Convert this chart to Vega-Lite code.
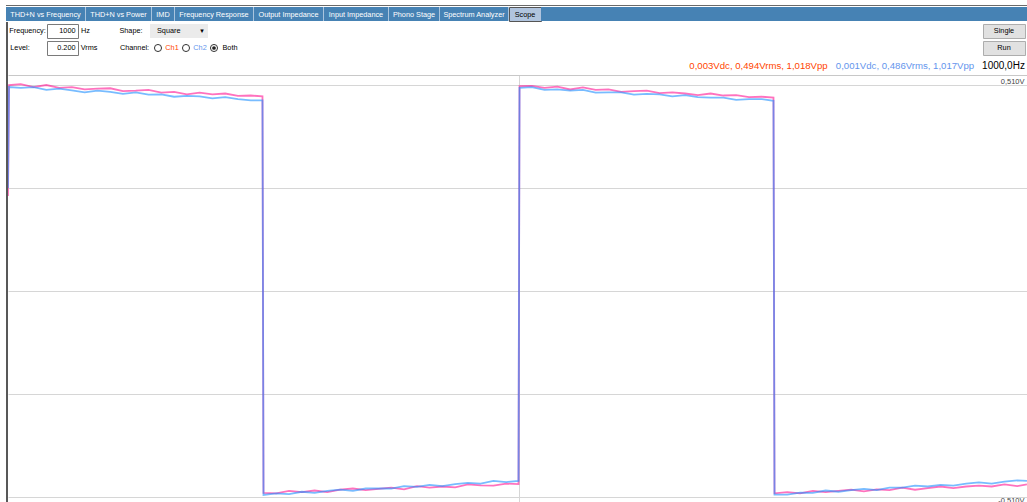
{
  "$schema": "https://vega.github.io/schema/vega-lite/v6.json",
  "padding": {"left": 6, "top": 5, "right": 0, "bottom": 0},
  "background": "white",
  "config": {
    "view": {"stroke": null},
    "text": {"font": "Liberation Sans", "fontSize": 7.3, "color": "#000000"},
    "concat": {"spacing": 0}
  },
  "datasets": {
    "scope": [
      {"ch":"Ch1","t":0,"v":0.235},{"ch":"Ch1","t":0.002,"v":0.51},{"ch":"Ch1","t":0.025,"v":0.512},{"ch":"Ch1","t":0.05,"v":0.505},{"ch":"Ch1","t":0.075,"v":0.51},{"ch":"Ch1","t":0.1,"v":0.503},{"ch":"Ch1","t":0.125,"v":0.505},{"ch":"Ch1","t":0.15,"v":0.499},{"ch":"Ch1","t":0.175,"v":0.501},{"ch":"Ch1","t":0.2,"v":0.502},{"ch":"Ch1","t":0.225,"v":0.495},{"ch":"Ch1","t":0.25,"v":0.496},{"ch":"Ch1","t":0.275,"v":0.498},{"ch":"Ch1","t":0.3,"v":0.491},{"ch":"Ch1","t":0.325,"v":0.493},{"ch":"Ch1","t":0.35,"v":0.487},{"ch":"Ch1","t":0.375,"v":0.491},{"ch":"Ch1","t":0.4,"v":0.487},{"ch":"Ch1","t":0.425,"v":0.489},{"ch":"Ch1","t":0.45,"v":0.483},{"ch":"Ch1","t":0.475,"v":0.484},{"ch":"Ch1","t":0.498,"v":0.482},
      {"ch":"Ch1","t":0.5,"v":-0.5},{"ch":"Ch1","t":0.525,"v":-0.501},{"ch":"Ch1","t":0.55,"v":-0.495},{"ch":"Ch1","t":0.575,"v":-0.498},{"ch":"Ch1","t":0.6,"v":-0.494},{"ch":"Ch1","t":0.625,"v":-0.498},{"ch":"Ch1","t":0.65,"v":-0.492},{"ch":"Ch1","t":0.675,"v":-0.489},{"ch":"Ch1","t":0.7,"v":-0.493},{"ch":"Ch1","t":0.725,"v":-0.49},{"ch":"Ch1","t":0.75,"v":-0.487},{"ch":"Ch1","t":0.775,"v":-0.491},{"ch":"Ch1","t":0.8,"v":-0.483},{"ch":"Ch1","t":0.825,"v":-0.487},{"ch":"Ch1","t":0.85,"v":-0.484},{"ch":"Ch1","t":0.875,"v":-0.486},{"ch":"Ch1","t":0.9,"v":-0.479},{"ch":"Ch1","t":0.925,"v":-0.481},{"ch":"Ch1","t":0.95,"v":-0.482},{"ch":"Ch1","t":0.975,"v":-0.477},{"ch":"Ch1","t":0.999,"v":-0.478},
      {"ch":"Ch1","t":1.001,"v":0.507},{"ch":"Ch1","t":1.025,"v":0.508},{"ch":"Ch1","t":1.05,"v":0.503},{"ch":"Ch1","t":1.075,"v":0.506},{"ch":"Ch1","t":1.1,"v":0.499},{"ch":"Ch1","t":1.125,"v":0.504},{"ch":"Ch1","t":1.15,"v":0.498},{"ch":"Ch1","t":1.175,"v":0.499},{"ch":"Ch1","t":1.2,"v":0.493},{"ch":"Ch1","t":1.225,"v":0.495},{"ch":"Ch1","t":1.25,"v":0.496},{"ch":"Ch1","t":1.275,"v":0.49},{"ch":"Ch1","t":1.3,"v":0.492},{"ch":"Ch1","t":1.325,"v":0.489},{"ch":"Ch1","t":1.35,"v":0.485},{"ch":"Ch1","t":1.375,"v":0.489},{"ch":"Ch1","t":1.4,"v":0.484},{"ch":"Ch1","t":1.425,"v":0.485},{"ch":"Ch1","t":1.45,"v":0.48},{"ch":"Ch1","t":1.475,"v":0.481},{"ch":"Ch1","t":1.498,"v":0.479},
      {"ch":"Ch1","t":1.5,"v":-0.501},{"ch":"Ch1","t":1.525,"v":-0.498},{"ch":"Ch1","t":1.55,"v":-0.501},{"ch":"Ch1","t":1.575,"v":-0.495},{"ch":"Ch1","t":1.6,"v":-0.498},{"ch":"Ch1","t":1.625,"v":-0.495},{"ch":"Ch1","t":1.65,"v":-0.492},{"ch":"Ch1","t":1.675,"v":-0.496},{"ch":"Ch1","t":1.7,"v":-0.491},{"ch":"Ch1","t":1.725,"v":-0.493},{"ch":"Ch1","t":1.75,"v":-0.487},{"ch":"Ch1","t":1.775,"v":-0.492},{"ch":"Ch1","t":1.8,"v":-0.488},{"ch":"Ch1","t":1.825,"v":-0.484},{"ch":"Ch1","t":1.85,"v":-0.488},{"ch":"Ch1","t":1.875,"v":-0.484},{"ch":"Ch1","t":1.9,"v":-0.482},{"ch":"Ch1","t":1.925,"v":-0.484},{"ch":"Ch1","t":1.95,"v":-0.479},{"ch":"Ch1","t":1.975,"v":-0.483},{"ch":"Ch1","t":1.994,"v":-0.479},
      {"ch":"Ch2","t":0,"v":0.255},{"ch":"Ch2","t":0.002,"v":0.505},{"ch":"Ch2","t":0.025,"v":0.503},{"ch":"Ch2","t":0.05,"v":0.505},{"ch":"Ch2","t":0.075,"v":0.498},{"ch":"Ch2","t":0.1,"v":0.501},{"ch":"Ch2","t":0.125,"v":0.497},{"ch":"Ch2","t":0.15,"v":0.492},{"ch":"Ch2","t":0.175,"v":0.496},{"ch":"Ch2","t":0.2,"v":0.493},{"ch":"Ch2","t":0.225,"v":0.488},{"ch":"Ch2","t":0.25,"v":0.492},{"ch":"Ch2","t":0.275,"v":0.486},{"ch":"Ch2","t":0.3,"v":0.487},{"ch":"Ch2","t":0.325,"v":0.481},{"ch":"Ch2","t":0.35,"v":0.483},{"ch":"Ch2","t":0.375,"v":0.482},{"ch":"Ch2","t":0.4,"v":0.477},{"ch":"Ch2","t":0.425,"v":0.48},{"ch":"Ch2","t":0.45,"v":0.475},{"ch":"Ch2","t":0.475,"v":0.472},{"ch":"Ch2","t":0.498,"v":0.472},
      {"ch":"Ch2","t":0.5,"v":-0.505},{"ch":"Ch2","t":0.525,"v":-0.501},{"ch":"Ch2","t":0.55,"v":-0.503},{"ch":"Ch2","t":0.575,"v":-0.497},{"ch":"Ch2","t":0.6,"v":-0.5},{"ch":"Ch2","t":0.625,"v":-0.495},{"ch":"Ch2","t":0.65,"v":-0.492},{"ch":"Ch2","t":0.675,"v":-0.495},{"ch":"Ch2","t":0.7,"v":-0.489},{"ch":"Ch2","t":0.725,"v":-0.489},{"ch":"Ch2","t":0.75,"v":-0.489},{"ch":"Ch2","t":0.775,"v":-0.483},{"ch":"Ch2","t":0.8,"v":-0.485},{"ch":"Ch2","t":0.825,"v":-0.48},{"ch":"Ch2","t":0.85,"v":-0.483},{"ch":"Ch2","t":0.875,"v":-0.478},{"ch":"Ch2","t":0.9,"v":-0.475},{"ch":"Ch2","t":0.925,"v":-0.477},{"ch":"Ch2","t":0.95,"v":-0.47},{"ch":"Ch2","t":0.975,"v":-0.473},{"ch":"Ch2","t":0.999,"v":-0.47},
      {"ch":"Ch2","t":1.001,"v":0.503},{"ch":"Ch2","t":1.025,"v":0.505},{"ch":"Ch2","t":1.05,"v":0.498},{"ch":"Ch2","t":1.075,"v":0.499},{"ch":"Ch2","t":1.1,"v":0.496},{"ch":"Ch2","t":1.125,"v":0.498},{"ch":"Ch2","t":1.15,"v":0.491},{"ch":"Ch2","t":1.175,"v":0.492},{"ch":"Ch2","t":1.2,"v":0.492},{"ch":"Ch2","t":1.225,"v":0.486},{"ch":"Ch2","t":1.25,"v":0.488},{"ch":"Ch2","t":1.275,"v":0.487},{"ch":"Ch2","t":1.3,"v":0.482},{"ch":"Ch2","t":1.325,"v":0.485},{"ch":"Ch2","t":1.35,"v":0.48},{"ch":"Ch2","t":1.375,"v":0.479},{"ch":"Ch2","t":1.4,"v":0.479},{"ch":"Ch2","t":1.425,"v":0.473},{"ch":"Ch2","t":1.45,"v":0.475},{"ch":"Ch2","t":1.475,"v":0.475},{"ch":"Ch2","t":1.498,"v":0.471},
      {"ch":"Ch2","t":1.5,"v":-0.504},{"ch":"Ch2","t":1.525,"v":-0.504},{"ch":"Ch2","t":1.55,"v":-0.499},{"ch":"Ch2","t":1.575,"v":-0.5},{"ch":"Ch2","t":1.6,"v":-0.494},{"ch":"Ch2","t":1.625,"v":-0.497},{"ch":"Ch2","t":1.65,"v":-0.493},{"ch":"Ch2","t":1.675,"v":-0.49},{"ch":"Ch2","t":1.7,"v":-0.493},{"ch":"Ch2","t":1.725,"v":-0.487},{"ch":"Ch2","t":1.75,"v":-0.487},{"ch":"Ch2","t":1.775,"v":-0.482},{"ch":"Ch2","t":1.8,"v":-0.484},{"ch":"Ch2","t":1.825,"v":-0.48},{"ch":"Ch2","t":1.85,"v":-0.482},{"ch":"Ch2","t":1.875,"v":-0.477},{"ch":"Ch2","t":1.9,"v":-0.474},{"ch":"Ch2","t":1.925,"v":-0.477},{"ch":"Ch2","t":1.95,"v":-0.472},{"ch":"Ch2","t":1.975,"v":-0.469},{"ch":"Ch2","t":1.994,"v":-0.47}
    ]
  },
  "spacing": 0,
  "bounds": "full",
  "vconcat": [
    {"width": 1021, "height": 1, "view": {"fill": "#6a6a6a"}, "data": {"values": []}, "mark": "text"},
    {
      "spacing": 0, "bounds": "flush",
      "hconcat": [
        {"width": 79, "height": 14, "view": {"fill": "#4682b4"}, "data": {"values": [{"label": "THD+N vs Frequency"}]}, "mark": {"type": "text", "color": "#ffffff", "dy": 1}, "encoding": {"text": {"field": "label"}}},
        {"width": 1, "height": 14, "view": {"fill": "#a9c4de"}, "data": {"values": []}, "mark": "text"},
        {"width": 65, "height": 14, "view": {"fill": "#4682b4"}, "data": {"values": [{"label": "THD+N vs Power"}]}, "mark": {"type": "text", "color": "#ffffff", "dy": 1}, "encoding": {"text": {"field": "label"}}},
        {"width": 1, "height": 14, "view": {"fill": "#a9c4de"}, "data": {"values": []}, "mark": "text"},
        {"width": 22, "height": 14, "view": {"fill": "#4682b4"}, "data": {"values": [{"label": "IMD"}]}, "mark": {"type": "text", "color": "#ffffff", "dy": 1}, "encoding": {"text": {"field": "label"}}},
        {"width": 1, "height": 14, "view": {"fill": "#a9c4de"}, "data": {"values": []}, "mark": "text"},
        {"width": 78, "height": 14, "view": {"fill": "#4682b4"}, "data": {"values": [{"label": "Frequency Response"}]}, "mark": {"type": "text", "color": "#ffffff", "dy": 1}, "encoding": {"text": {"field": "label"}}},
        {"width": 1, "height": 14, "view": {"fill": "#a9c4de"}, "data": {"values": []}, "mark": "text"},
        {"width": 69, "height": 14, "view": {"fill": "#4682b4"}, "data": {"values": [{"label": "Output Impedance"}]}, "mark": {"type": "text", "color": "#ffffff", "dy": 1}, "encoding": {"text": {"field": "label"}}},
        {"width": 1, "height": 14, "view": {"fill": "#a9c4de"}, "data": {"values": []}, "mark": "text"},
        {"width": 64, "height": 14, "view": {"fill": "#4682b4"}, "data": {"values": [{"label": "Input Impedance"}]}, "mark": {"type": "text", "color": "#ffffff", "dy": 1}, "encoding": {"text": {"field": "label"}}},
        {"width": 1, "height": 14, "view": {"fill": "#a9c4de"}, "data": {"values": []}, "mark": "text"},
        {"width": 50, "height": 14, "view": {"fill": "#4682b4"}, "data": {"values": [{"label": "Phono Stage"}]}, "mark": {"type": "text", "color": "#ffffff", "dy": 1}, "encoding": {"text": {"field": "label"}}},
        {"width": 1, "height": 14, "view": {"fill": "#a9c4de"}, "data": {"values": []}, "mark": "text"},
        {"width": 68, "height": 14, "view": {"fill": "#4682b4"}, "data": {"values": [{"label": "Spectrum Analyzer"}]}, "mark": {"type": "text", "color": "#ffffff", "dy": 1}, "encoding": {"text": {"field": "label"}}},
        {"width": 1, "height": 14, "view": {"fill": "#a9c4de"}, "data": {"values": []}, "mark": "text"},
        {"width": 32, "height": 14, "view": {"fill": "#b0c4de", "stroke": "#555555"}, "data": {"values": [{"label": "Scope"}]}, "mark": {"type": "text", "color": "#000000", "dy": 1}, "encoding": {"text": {"field": "label"}}},
        {"width": 486, "height": 14, "view": {"fill": "#4682b4"}, "data": {"values": []}, "mark": "text"}
      ]
    },
    {
      "spacing": 0, "bounds": "full",
      "hconcat": [
        {"width": 2, "height": 480, "view": {"fill": "#585858"}, "data": {"values": []}, "mark": "text"},
        {
          "spacing": 0, "bounds": "full",
          "vconcat": [
            {"width": 1019, "height": 1, "data": {"values": []}, "mark": "text"},
            {
              "spacing": 0, "bounds": "flush",
              "hconcat": [
                {"width": 2, "height": 14, "data": {"values": []}, "mark": "text"},
                {"width": 35, "height": 14, "data": {"values": [{"label": "Frequency:"}]}, "mark": {"type": "text"}, "encoding": {"text": {"field": "label"}}},
                {"width": 2, "height": 14, "data": {"values": []}, "mark": "text"},
                {"width": 31, "height": 14, "view": {"fill": "#ffffff", "stroke": "#7a7a7a"}, "data": {"values": [{"label": "1000"}]}, "mark": {"type": "text", "align": "right", "dx": 13}, "encoding": {"text": {"field": "label"}}},
                {"width": 2, "height": 14, "data": {"values": []}, "mark": "text"},
                {"width": 11, "height": 14, "data": {"values": [{"label": "Hz"}]}, "mark": {"type": "text"}, "encoding": {"text": {"field": "label"}}},
                {"width": 28, "height": 14, "data": {"values": []}, "mark": "text"},
                {"width": 24, "height": 14, "data": {"values": [{"label": "Shape:"}]}, "mark": {"type": "text"}, "encoding": {"text": {"field": "label"}}},
                {"width": 7, "height": 14, "data": {"values": []}, "mark": "text"},
                {"width": 58, "height": 14, "view": {"fill": "#ebebeb"},
                  "data": {"values": [{"label": "Square", "arrow": "▾"}]},
                  "layer": [
                    {"mark": {"type": "text", "align": "left", "dx": -22}, "encoding": {"text": {"field": "label"}}},
                    {"mark": {"type": "text", "font": "DejaVu Sans", "fontSize": 7, "dx": 23}, "encoding": {"text": {"field": "arrow"}}}
                  ]},
                {"width": 775, "height": 14, "data": {"values": []}, "mark": "text"},
                {"width": 42, "height": 14, "view": {"fill": "#e1e1e1", "stroke": "#adadad"}, "data": {"values": [{"label": "Single"}]}, "mark": {"type": "text"}, "encoding": {"text": {"field": "label"}}},
                {"width": 2, "height": 14, "data": {"values": []}, "mark": "text"}
              ]
            },
            {"width": 1019, "height": 1, "data": {"values": []}, "mark": "text"},
            {
              "spacing": 0, "bounds": "flush",
              "hconcat": [
                {"width": 2, "height": 14, "data": {"values": []}, "mark": "text"},
                {"width": 20, "height": 14, "data": {"values": [{"label": "Level:"}]}, "mark": {"type": "text"}, "encoding": {"text": {"field": "label"}}},
                {"width": 17, "height": 14, "data": {"values": []}, "mark": "text"},
                {"width": 31, "height": 14, "view": {"fill": "#ffffff", "stroke": "#7a7a7a"}, "data": {"values": [{"label": "0.200"}]}, "mark": {"type": "text", "align": "right", "dx": 13}, "encoding": {"text": {"field": "label"}}},
                {"width": 2, "height": 14, "data": {"values": []}, "mark": "text"},
                {"width": 18, "height": 14, "data": {"values": [{"label": "Vrms"}]}, "mark": {"type": "text"}, "encoding": {"text": {"field": "label"}}},
                {"width": 21, "height": 14, "data": {"values": []}, "mark": "text"},
                {"width": 31, "height": 14, "data": {"values": [{"label": "Channel:"}]}, "mark": {"type": "text"}, "encoding": {"text": {"field": "label"}}},
                {"width": 4, "height": 14, "data": {"values": []}, "mark": "text"},
                {"width": 8, "height": 14, "data": {"values": [{"option": "Ch1"}]}, "mark": {"type": "point", "filled": false, "size": 50, "stroke": "#333333", "strokeWidth": 1, "opacity": 1}},
                {"width": 2, "height": 14, "data": {"values": []}, "mark": "text"},
                {"width": 16, "height": 14, "data": {"values": [{"label": "Ch1"}]}, "mark": {"type": "text", "color": "#ff4500"}, "encoding": {"text": {"field": "label"}}},
                {"width": 2, "height": 14, "data": {"values": []}, "mark": "text"},
                {"width": 8, "height": 14, "data": {"values": [{"option": "Ch2"}]}, "mark": {"type": "point", "filled": false, "size": 50, "stroke": "#333333", "strokeWidth": 1, "opacity": 1}},
                {"width": 2, "height": 14, "data": {"values": []}, "mark": "text"},
                {"width": 16, "height": 14, "data": {"values": [{"label": "Ch2"}]}, "mark": {"type": "text", "color": "#6495ed"}, "encoding": {"text": {"field": "label"}}},
                {"width": 2, "height": 14, "data": {"values": []}, "mark": "text"},
                {"width": 8, "height": 14, "data": {"values": [{"option": "Both"}]},
                  "layer": [
                    {"mark": {"type": "point", "filled": false, "size": 50, "stroke": "#333333", "strokeWidth": 1, "opacity": 1}},
                    {"mark": {"type": "point", "filled": true, "size": 14, "color": "#222222", "opacity": 1}}
                  ]},
                {"width": 2, "height": 14, "data": {"values": []}, "mark": "text"},
                {"width": 20, "height": 14, "data": {"values": [{"label": "Both"}]}, "mark": {"type": "text"}, "encoding": {"text": {"field": "label"}}},
                {"width": 743, "height": 14, "data": {"values": []}, "mark": "text"},
                {"width": 42, "height": 14, "view": {"fill": "#e1e1e1", "stroke": "#adadad"}, "data": {"values": [{"label": "Run"}]}, "mark": {"type": "text"}, "encoding": {"text": {"field": "label"}}},
                {"width": 2, "height": 14, "data": {"values": []}, "mark": "text"}
              ]
            },
            {"width": 1019, "height": 2, "data": {"values": []}, "mark": "text"},
            {
              "spacing": 0, "bounds": "flush",
              "hconcat": [
                {"width": 679, "height": 16, "data": {"values": []}, "mark": "text"},
                {"width": 143, "height": 16, "data": {"values": [{"label": "0,003Vdc, 0,494Vrms, 1,018Vpp"}]}, "mark": {"type": "text", "color": "#ff4500", "fontSize": 9.6}, "encoding": {"text": {"field": "label"}}},
                {"width": 5, "height": 16, "data": {"values": []}, "mark": "text"},
                {"width": 140, "height": 16, "data": {"values": [{"label": "0,001Vdc, 0,486Vrms, 1,017Vpp"}]}, "mark": {"type": "text", "color": "#6495ed", "fontSize": 9.6}, "encoding": {"text": {"field": "label"}}},
                {"width": 6, "height": 16, "data": {"values": []}, "mark": "text"},
                {"width": 45, "height": 16, "data": {"values": [{"label": "1000,0Hz"}]}, "mark": {"type": "text", "color": "#000000", "fontSize": 10}, "encoding": {"text": {"field": "label"}}},
                {"width": 1, "height": 16, "data": {"values": []}, "mark": "text"}
              ]
            },
            {"width": 1019, "height": 1, "data": {"values": []}, "mark": "text"},
            {
              "width": 1019, "height": 427,
              "data": {"name": "scope"},
              "mark": {"type": "line", "strokeWidth": 1.8, "strokeOpacity": 0.6, "clip": true},
              "encoding": {
                "x": {"field": "t", "type": "quantitative", "title": null,
                  "scale": {"domain": [0, 1.9941], "nice": false, "zero": false},
                  "axis": {"orient": "top", "values": [1], "grid": true, "gridColor": "#d6d6d6", "gridOpacity": 1, "labels": false, "ticks": false, "tickSize": 0, "domain": true, "domainColor": "#c8c8c8", "offset": 0, "title": null}},
                "y": {"field": "v", "type": "quantitative", "title": null,
                  "scale": {"domain": [-0.5224, 0.5348], "nice": false, "zero": false},
                  "axis": {"orient": "right", "values": [-0.51, -0.255, 0, 0.255, 0.51], "grid": true, "gridColor": "#d6d6d6", "gridOpacity": 1, "ticks": false, "tickSize": 0, "domain": false, "offset": 0, "title": null,
                    "labelExpr": "datum.value > 0.5 ? '0,510V' : (datum.value < -0.5 ? '-0,510V' : '')",
                    "labelAlign": "right", "labelPadding": -3,
                    "labelBaseline": {"condition": {"test": "datum.value > 0", "value": "bottom"}, "value": "top"},
                    "labelFont": "Liberation Sans", "labelFontSize": 7.5, "labelColor": "#444444",
                    "labelOverlap": false, "labelBound": false, "labelFlush": false}},
                "color": {"field": "ch", "type": "nominal", "scale": {"domain": ["Ch1", "Ch2"], "range": ["#ff1493", "#1e90ff"]}, "legend": null}
              }
            }
          ]
        }
      ]
    }
  ]
}
